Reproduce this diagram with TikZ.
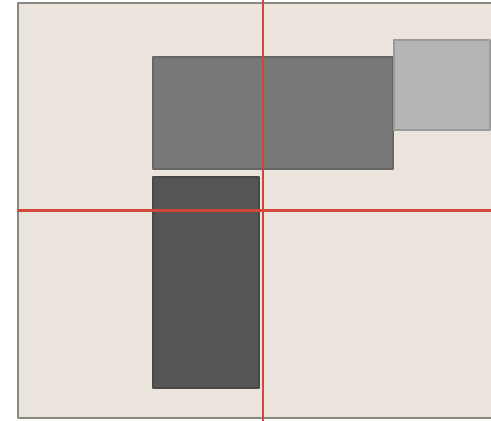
\documentclass[tikz,border=0pt]{standalone}
\definecolor{paper}{HTML}{EBE4DC}
\definecolor{edge}{HTML}{8A8680}
\definecolor{midgray}{HTML}{787878}
\definecolor{lightgray}{HTML}{B5B5B5}
\definecolor{darkgray}{HTML}{555555}
\definecolor{axisred}{HTML}{D2463A}
\tikzset{
  block/.style={line width=0.8pt, line join=round},
  axis/.style={axisred, line width=1.7pt}
}
\begin{document}
\begin{tikzpicture}[x=0.02cm, y=-0.02cm, line join=round, line cap=butt]
			\useasboundingbox (0,0) rectangle (491,421);
			\coordinate (P1) at (18,3);
			\coordinate (P2) at (491,418);
			\fill[white] (0,0) rectangle (491,421);
			\fill[paper] (P1) rectangle (P2);
			\draw[edge, line width=0.8pt] (491,3) -- (P1) -- (18,418) -- (P2);
			% blocks
			\coordinate (M1) at (153,57);
			\coordinate (M2) at (393,169);
			\coordinate (L1) at (394,40);
			\coordinate (L2) at (490,130);
			\coordinate (D1) at (153,177);
			\coordinate (D2) at (259,388);
			\filldraw[block, fill=midgray, draw=midgray!85!black] (M1) rectangle (M2);
			\filldraw[block, fill=lightgray, draw=lightgray!85!black] (L1) rectangle (L2);
			\filldraw[block, fill=darkgray, draw=darkgray!85!black] (D1) rectangle (D2);
			% axes
			\draw[axis] (263,0) -- (263,421);
			\draw[axis] (18,211) -- (491,211);
		\end{tikzpicture}
\end{document}
